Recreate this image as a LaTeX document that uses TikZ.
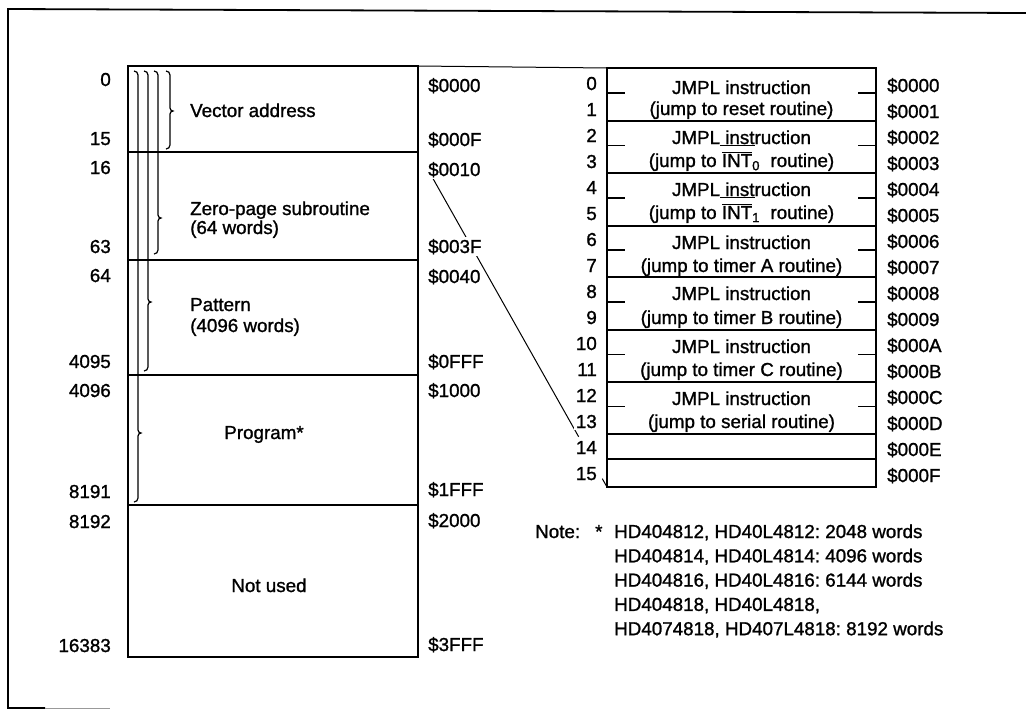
\documentclass[tikz,border=0pt]{standalone}
\usepackage{fontspec}
\setmainfont{Liberation Sans}[FakeBold=1.2]
\usetikzlibrary{calc}
\frenchspacing
\newcommand{\fs}{\fontsize{18.8}{22}\selectfont}
\newcommand{\mbrace}[4]{%
  \draw[bracestyle] (#1-4,#2) to[out=0,in=90] (#1,#2+4) -- (#1,#3-3)
    to[out=-90,in=180] (#1+3,#3) to[out=180,in=90] (#1,#3+3) -- (#1,#4-4)
    to[out=-90,in=0] (#1-4,#4);}
\begin{document}
\begin{tikzpicture}[x=1pt,y=-1pt,
  every node/.style={inner sep=0pt,font=\fs},
  frame/.style={line width=1.8pt},
  box/.style={line width=1.8pt},
  sepline/.style={line width=1.4pt},
  tick/.style={line width=1.4pt},
  bracestyle/.style={line width=1.2pt},
  zoomline/.style={line width=1pt},
  lnum/.style={anchor=base east},
  rhex/.style={anchor=base west},
  cover/.style={fill=white,inner sep=2pt},
  memtext/.style={anchor=base west,align=left},
  celltext/.style={anchor=base}]
\useasboundingbox (0,0) rectangle (1026,710);
% frame
\coordinate (F1) at (8,9);
\coordinate (F2) at (1026,13);
\coordinate (F3) at (8,708);
\coordinate (F4) at (45,708);
\coordinate (F5) at (110,708);
\draw[frame] (F2) -- (F1) -- (F3) -- (F4);
\draw[line width=1pt,black!40] (F4) -- (F5);
% left memory map
\coordinate (LTL) at (128,66);
\coordinate (LTR) at (418,66);
\coordinate (L16) at (418,152);
\coordinate (LBR) at (418,657);
\draw[box] (LTL) rectangle (LBR);
\foreach \y in {152,260,375,505} \draw[sepline] (128,\y) -- (418,\y);
% braces
\mbrace{170}{71}{111}{149}
\mbrace{158}{71}{218}{254}
\mbrace{148}{71}{302}{371}
\mbrace{138}{71}{433}{502}
% right vector table
\coordinate (RTL) at (607,68);
\coordinate (RBL) at (607,487);
\coordinate (RBR) at (876,487);
\draw[box] (RTL) rectangle (RBR);
\foreach \y in {121,173,226,277,330,382,434,459} \draw[sepline] (607,\y) -- (876,\y);
\foreach \m in {93,145.5,198,250,302,354.5,406.5} {
  \draw[tick] (607,\m) -- (625,\m);
  \draw[tick] (858,\m) -- (876,\m);
}
% connectors between the two maps
\draw[zoomline] (LTR) -- (RTL);
\draw[zoomline,shorten <=30pt] (L16) -- ($(L16)!0.85!(RBL)$);
\draw[zoomline] ($(L16)!0.975!(RBL)$) -- (RBL);
% left numbers
\node[lnum] (n0) at (111,86) {0};
\node[lnum] (n15) at (111,145) {15};
\node[lnum] (n16) at (111,174) {16};
\node[lnum] (n63) at (111,253) {63};
\node[lnum] (n64) at (111,282) {64};
\node[lnum] (n4095) at (111,368) {4095};
\node[lnum] (n4096) at (111,397) {4096};
\node[lnum] (n8191) at (111,498) {8191};
\node[lnum] (n8192) at (111,528) {8192};
\node[lnum] (n16383) at (111,652) {16383};
% left hex
\node[rhex,cover] (h0000) at (426,92) {\$0000};
\node[rhex,cover] (h000F) at (426,146) {\$000F};
\node[rhex,cover] (h0010) at (426,176) {\$0010};
\node[rhex,cover] (h003F) at (426,253) {\$003F};
\node[rhex,cover] (h0040) at (426,283) {\$0040};
\node[rhex,cover] (h0FFF) at (426,368) {\$0FFF};
\node[rhex,cover] (h1000) at (426,397) {\$1000};
\node[rhex,cover] (h1FFF) at (426,496) {\$1FFF};
\node[rhex,cover] (h2000) at (426,527) {\$2000};
\node[rhex,cover] (h3FFF) at (426,651) {\$3FFF};
% left region texts
\node[memtext] (tvec) at (190,117) {Vector address};
\node[memtext] (tzero) at (190,215) {Zero-page subroutine};
\node[memtext] (tzero2) at (190,234) {(64 words)};
\node[memtext] (tpat) at (190,311) {Pattern};
\node[memtext] (tpat2) at (190,332) {(4096 words)};
\node[celltext] (tprog) at (264,439) {Program*};
\node[celltext] (tnot) at (269,592) {Not used};
% right numbers and hex
\foreach \k in {0,...,15} {
  \node[lnum,cover] (r\k) at (599,90+26*\k) {\k};
}
\foreach \k/\h in {0/0,1/1,2/2,3/3,4/4,5/5,6/6,7/7,8/8,9/9,10/A,11/B,12/C,13/D,14/E,15/F} {
  \node[rhex] (x\k) at (887,92+26*\k) {\$000\h};
}
% right cell texts
\node[celltext] (c0a) at (741.5,94) {JMPL instruction};
\node[celltext] (c0b) at (741.5,115) {(jump to reset routine)};
\node[celltext] (c1a) at (741.5,144) {JMPL\underline{\ inst}ruction};
\node[celltext] (c1b) at (741.5,167) {(jump to $\overline{\hbox{INT}}$\textsubscript{0}\ \ routine)};
\node[celltext] (c2a) at (741.5,196) {JMPL\underline{\ inst}ruction};
\node[celltext] (c2b) at (741.5,219) {(jump to $\overline{\hbox{INT}}$\textsubscript{1}\ \ routine)};
\node[celltext] (c3a) at (741.5,249) {JMPL instruction};
\node[celltext] (c3b) at (741.5,272) {(jump to timer A routine)};
\node[celltext] (c4a) at (741.5,300) {JMPL instruction};
\node[celltext] (c4b) at (741.5,324) {(jump to timer B routine)};
\node[celltext] (c5a) at (741.5,353) {JMPL instruction};
\node[celltext] (c5b) at (741.5,376) {(jump to timer C routine)};
\node[celltext] (c6a) at (741.5,405) {JMPL instruction};
\node[celltext] (c6b) at (741.5,428) {(jump to serial routine)};
% note
\node[anchor=base west] (note) at (535,538) {Note:};
\node[anchor=base west] (star) at (595,538) {*};
\node[anchor=base west] (n1) at (614,538) {HD404812, HD40L4812: 2048 words};
\node[anchor=base west] (n2) at (614,562.3) {HD404814, HD40L4814: 4096 words};
\node[anchor=base west] (n3) at (614,586.6) {HD404816, HD40L4816: 6144 words};
\node[anchor=base west] (n4) at (614,610.9) {HD404818, HD40L4818,};
\node[anchor=base west] (n5) at (614,635.2) {HD4074818, HD407L4818: 8192 words};
\end{tikzpicture}
\end{document}
